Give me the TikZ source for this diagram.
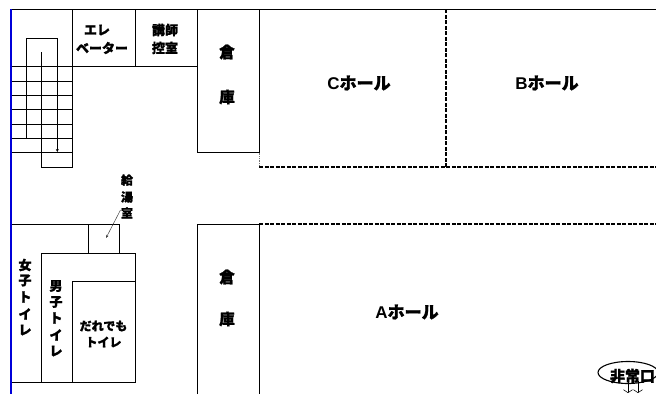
\documentclass[tikz,border=0pt]{standalone}
\usepackage{fontspec}
\setmainfont{Liberation Sans}
\newfontfamily\cjk[BoldFeatures={FakeBold=1.4}]{Noto Sans CJK JP}
\usetikzlibrary{arrows.meta}
\newcommand{\latinb}[1]{{\rmfamily\bfseries #1}}
\tikzset{
  wall/.style={draw=black,line width=0.9pt},
  thin wall/.style={draw=black,line width=0.8pt},
  partition/.style={draw=black,line width=1.2pt,dash pattern=on 4pt off 1.5pt},
  lab/.style={inner sep=0pt,align=center,font=\cjk\bfseries\fontsize{13}{18}\selectfont},
  big/.style={lab,font=\cjk\bfseries\fontsize{15.5}{18}\selectfont},
  hall/.style={lab,font=\cjk\bfseries\fontsize{17}{18}\selectfont},
  small/.style={lab,font=\cjk\bfseries\fontsize{12}{14}\selectfont},
  pointer/.style={draw=black!75,line width=0.5pt,-{Stealth[length=3pt,width=2.5pt]}},
  exitarrow/.style={draw=black,line width=0.5pt,-{Straight Barb[length=3pt,width=9pt]}}
}
\begin{document}
\begin{tikzpicture}[x=1pt,y=-1pt]
\useasboundingbox (0,0) rectangle (656,394);
\begin{scope}
\clip (0,0) rectangle (656,394);
% top wall and rooms
\path[wall] (11,9.3) -- (656,9.3);
\path[wall] (72.7,9.3) -- (72.7,66.7);
\path[wall] (135,9.3) -- (135,66.7);
\path[wall] (197.3,9.3) -- (197.3,152.7) -- (259.3,152.7);
\path[wall] (259.3,9.3) -- (259.3,152.7);
\path[wall] (11,66.7) -- (197.3,66.7);
% stairs
\foreach \yy in {81,95.3,109.7,124,138.3,152.7}{\path[thin wall] (11,\yy) -- (72.7,\yy);}
\path[thin wall] (26.3,138.3) -- (26.3,38) -- (57.3,38) -- (57.3,148);
\path[thin wall] (41.7,52) -- (41.7,167.3) -- (72.7,167.3) -- (72.7,66.7);
\path[draw=black,line width=0.5pt,-{Stealth[length=3pt,width=3pt]}] (57.3,146) -- (57.3,152);
% halls
\path[draw=black!55,line width=0.7pt,densely dotted] (259.3,152.7) -- (259.3,167);
\path[partition] (259.3,167) -- (656,167);
\path[partition] (259.3,224) -- (656,224);
\path[partition] (446,9.3) -- (446,167);
% lower rooms
\path[wall] (11,224.7) -- (88.3,224.7);
\path[wall] (88.3,224.7) rectangle (119.3,253.3);
\path[wall] (41.7,253.3) rectangle (135,382.3);
\path[wall] (72.7,382.3) -- (72.7,281.7) -- (135,281.7);
\path[wall] (11,382.3) -- (41.7,382.3);
\path[wall] (197.3,394) -- (197.3,224.7) -- (259.3,224.7) -- (259.3,394);
% outer blue wall
\path[draw=blue!85!black,line width=2pt] (11,9) -- (11,394);
% labels
\node[lab] (ele1) at (97,30) {エレ};
\node[lab] (ele2) at (102,48) {ベーター};
\node[lab] (kou1) at (165,30) {講師};
\node[lab] (kou2) at (165,48) {控室};
\node[big] (so1a) at (227,52) {倉};
\node[big] (so1b) at (227,97) {庫};
\node[big] (so2a) at (227,277) {倉};
\node[big] (so2b) at (227,319) {庫};
\node[hall] (hc) at (359,83) {\latinb{C}ホール};
\node[hall] (hb) at (547,83) {\latinb{B}ホール};
\node[hall] (ha) at (407,312) {\latinb{A}ホール};
\node[small] (k1) at (127,180) {給};
\node[small] (k2) at (127,197) {湯};
\node[small] (k3) at (127,213) {室};
\coordinate (kto) at (106,238);
\path[pointer] (120.5,210) -- (kto);
\node[lab] (f1) at (25,265) {女};
\node[lab] (f2) at (25,280.5) {子};
\node[lab] (f3) at (25,297) {ト};
\node[lab] (f4) at (25,314) {イ};
\node[lab] (f5) at (25,330) {レ};
\node[lab] (m1) at (56,286) {男};
\node[lab] (m2) at (56,302) {子};
\node[lab] (m3) at (56,318) {ト};
\node[lab] (m4) at (56,335) {イ};
\node[lab] (m5) at (56,351) {レ};
\node[small] (d1) at (103.5,326) {だれでも};
\node[small] (d2) at (103.5,342) {トイレ};
% emergency exit
\path[draw=black,line width=1.1pt] (628,372.5) ellipse [x radius=30,y radius=11];
\node[lab,font=\cjk\bfseries\fontsize{15}{16}\selectfont] (ex) at (632.5,376) {非常口};
\coordinate (exa) at (628,393);
\coordinate (exb) at (638,393);
\path[exitarrow] (628,381) -- (exa);
\path[exitarrow] (638,381) -- (exb);
\end{scope}
\end{tikzpicture}
\end{document}
